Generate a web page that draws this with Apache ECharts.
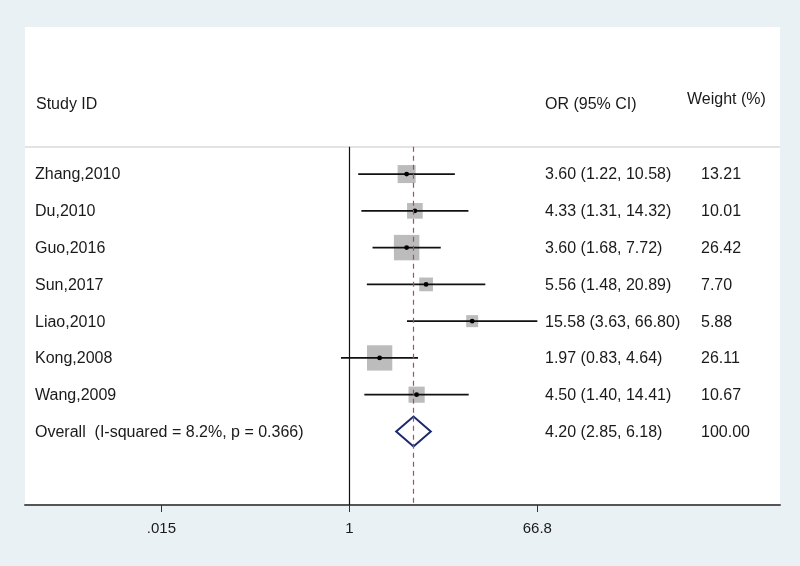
<!DOCTYPE html>
<html>
<head>
<meta charset="utf-8">
<script src="https://cdn.jsdelivr.net/npm/echarts@6/dist/echarts.min.js"></script>
<style>
  html, body { margin: 0; padding: 0; background: #eaf1f5; }
  #chart { width: 800px; height: 566px; }
</style>
</head>
<body>
<div id="chart"></div>
<script>
const studies = ["Zhang,2010", "Du,2010", "Guo,2016", "Sun,2017", "Liao,2010", "Kong,2008", "Wang,2009"];
const orValues = [3.60, 4.33, 3.60, 5.56, 15.58, 1.97, 4.50];
const ciLower = [1.22, 1.31, 1.68, 1.48, 3.63, 0.83, 1.40];
const ciUpper = [10.58, 14.32, 7.72, 20.89, 66.80, 4.64, 14.41];
const weights = [13.21, 10.01, 26.42, 7.70, 5.88, 26.11, 10.67];

const overallLabel = "Overall  (I-squared = 8.2%, p = 0.366)";
const overallCI = [4.20, 2.85, 6.18]; // or, lower, upper
const overallWeight = 100.00;

const headerLabels = ["Study ID", "OR (95% CI)", "Weight (%)"];
const tickValues = [0.015, 1, 66.8];
const tickLabels = [".015", "1", "66.8"];

const textFont = "16px 'Liberation Sans', Arial, sans-serif";
const textColor = "#1a1a1a";
const colName = 35, colOR = 545, colWeight = 701, colWeightHead = 687;

const chart = echarts.init(document.getElementById("chart"));

const fmtCI = (o, l, h) => o.toFixed(2) + " (" + l.toFixed(2) + ", " + h.toFixed(2) + ")";

// rows: [lower, upper, or, row, weight]
const forestData = studies.map((s, i) => [ciLower[i], ciUpper[i], orValues[i], i, weights[i]]);

// table text, one entry per row (strings kept outside the series data so "7.70" stays "7.70")
const tableRows = studies.map((s, i) => [s, fmtCI(orValues[i], ciLower[i], ciUpper[i]), weights[i].toFixed(2)]);
tableRows.push([overallLabel, fmtCI(overallCI[0], overallCI[1], overallCI[2]), overallWeight.toFixed(2)]);

const txt = (x, y, s) => ({
  type: "text",
  style: { x: x, y: y, text: s, font: textFont, fill: textColor, verticalAlign: "middle", align: "left" },
});

const option = {
  backgroundColor: "#eaf1f5",
  animation: false,
  grid: { left: 25, right: 20, top: 27, bottom: 61, show: true, backgroundColor: "#ffffff", borderWidth: 0 },
  xAxis: {
    type: "log",
    logBase: Math.E,
    min: 0.000712,
    max: 15138,
    splitLine: { show: false },
    axisLine: { onZero: false, lineStyle: { color: "#555", width: 2 } },
    axisTick: { customValues: tickValues, length: 7, lineStyle: { color: "#333", width: 1 } },
    axisLabel: {
      customValues: tickValues,
      margin: 16,
      color: "#1a1a1a",
      fontSize: 15,
      fontFamily: "'Liberation Sans', Arial, sans-serif",
      formatter: (v) => {
        const k = tickValues.findIndex((t) => Math.abs(t - v) / t < 1e-6);
        return k >= 0 ? tickLabels[k] : "";
      },
    },
  },
  yAxis: {
    type: "value",
    inverse: true,
    min: -4,
    max: 9,
    show: false,
  },
  series: [
    {
      type: "custom",
      name: "refs",
      data: [],
      renderItem: () => null,
      markLine: {
        silent: true,
        symbol: "none",
        label: { show: false },
        data: [
          [{ coord: [0.000712, -0.74], lineStyle: { color: "#dadada", width: 1.5, type: "solid" } }, { coord: [15138, -0.74] }],
          [{ coord: [1, -0.74], lineStyle: { color: "#111", width: 1.2, type: "solid" } }, { coord: [1, 9] }],
          [{ coord: [overallCI[0], -0.74], lineStyle: { color: "#a0525e", width: 1.2, type: [5, 4] } }, { coord: [overallCI[0], 9] }],
        ],
      },
    },
    {
      type: "custom",
      name: "studies",
      data: forestData,
      encode: { x: [0, 1, 2], y: 3 },
      renderItem: (params, api) => {
        const lo = api.coord([api.value(0), api.value(3)]);
        const hi = api.coord([api.value(1), api.value(3)]);
        const c = api.coord([api.value(2), api.value(3)]);
        const size = 4.95 * Math.sqrt(api.value(4));
        return {
          type: "group",
          children: [
            { type: "rect", shape: { x: c[0] - size / 2, y: c[1] - size / 2, width: size, height: size }, style: { fill: "#bcbcbc" } },
            { type: "line", shape: { x1: lo[0], y1: lo[1], x2: hi[0], y2: hi[1] }, style: { stroke: "#111", lineWidth: 1.8 } },
            { type: "circle", shape: { cx: c[0], cy: c[1], r: 2.4 }, style: { fill: "#000" } },
          ],
        };
      },
    },
    {
      type: "custom",
      name: "overall",
      data: [[overallCI[1], overallCI[2], overallCI[0], studies.length]],
      encode: { x: [0, 1, 2], y: 3 },
      renderItem: (params, api) => {
        const lo = api.coord([api.value(0), api.value(3)]);
        const hi = api.coord([api.value(1), api.value(3)]);
        const c = api.coord([api.value(2), api.value(3)]);
        const h = 15;
        return {
          type: "polygon",
          shape: { points: [[lo[0], lo[1]], [c[0], c[1] - h], [hi[0], hi[1]], [c[0], c[1] + h]] },
          style: { fill: "#ffffff", stroke: "#1c2a6b", lineWidth: 2 },
        };
      },
    },
    {
      type: "custom",
      name: "table",
      data: tableRows.map((r, i) => [1, i]),
      encode: { x: 0, y: 1 },
      renderItem: (params, api) => {
        const row = tableRows[params.dataIndex];
        const y = api.coord([1, api.value(1)])[1] + 1;
        const children = [txt(colName, y, row[0]), txt(colOR, y, row[1]), txt(colWeight, y, row[2])];
        if (params.dataIndex === 0) {
          const yh = api.coord([1, -1.88])[1];
          const yw = api.coord([1, -2.02])[1];
          children.push(txt(colName + 1, yh, headerLabels[0]));
          children.push(txt(colOR, yh, headerLabels[1]));
          children.push(txt(colWeightHead, yw, headerLabels[2]));
        }
        return { type: "group", children: children };
      },
    },
  ],
};

chart.setOption(option);
</script>
</body>
</html>
